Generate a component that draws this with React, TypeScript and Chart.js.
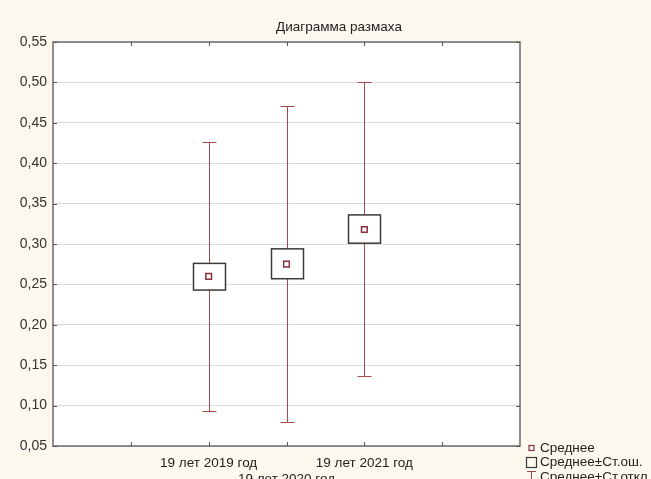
import React, { useEffect, useRef } from "react";
import { Chart, registerables } from "chart.js";

Chart.register(...registerables);

const titleText = "Диаграмма размаха";
const categories = ["19 лет 2019 год", "19 лет 2020 год", "19 лет 2021 год"];
const positions = [2, 3, 4];
const means = [0.26, 0.275, 0.318];
const seLow = [0.243, 0.257, 0.301];
const seHigh = [0.276, 0.294, 0.336];
const sdLow = [0.093, 0.08, 0.137];
const sdHigh = [0.426, 0.471, 0.5];
const legendLabels = ["Среднее", "Среднее±Ст.ош.", "Среднее±Ст.откл."];

const FONT = "'Liberation Sans', Arial, sans-serif";
const BG = "#FCF8EE";
const WHISKER = "#A04A4A";
const MEAN = "#8A2E3C";
const BOX = "#3a3a3a";

const boxPlugin = {
  id: "boxPlugin",
  beforeDraw(chart: any) {
    const { ctx, chartArea: a, width, height } = chart;
    ctx.save();
    ctx.fillStyle = BG;
    ctx.fillRect(0, 0, width, height);
    ctx.fillStyle = "#ffffff";
    ctx.fillRect(a.left, a.top, a.right - a.left, a.bottom - a.top);
    ctx.restore();
  },
  beforeDatasetsDraw(chart: any) {
    const { ctx, scales } = chart;
    const xs = scales.x;
    const ys = scales.y;
    ctx.save();
    positions.forEach((p, i) => {
      const x = Math.round(xs.getPixelForValue(p)) + 0.5;
      const yTop = Math.round(ys.getPixelForValue(sdHigh[i])) + 0.5;
      const yBot = Math.round(ys.getPixelForValue(sdLow[i])) + 0.5;
      ctx.strokeStyle = WHISKER;
      ctx.lineWidth = 1;
      ctx.beginPath();
      ctx.moveTo(x, yTop);
      ctx.lineTo(x, yBot);
      ctx.moveTo(x - 7, yTop);
      ctx.lineTo(x + 7, yTop);
      ctx.moveTo(x - 7, yBot);
      ctx.lineTo(x + 7, yBot);
      ctx.stroke();
      const bTop = ys.getPixelForValue(seHigh[i]);
      const bBot = ys.getPixelForValue(seLow[i]);
      const hw = 16;
      ctx.fillStyle = "#ffffff";
      ctx.fillRect(x - hw, bTop, hw * 2, bBot - bTop);
      ctx.strokeStyle = BOX;
      ctx.lineWidth = 1.5;
      ctx.strokeRect(x - hw, bTop, hw * 2, bBot - bTop);
    });
    ctx.restore();
  },
  afterDraw(chart: any) {
    const { ctx, chartArea: a, scales } = chart;
    ctx.save();
    // frame
    ctx.strokeStyle = "#6b6b6b";
    ctx.lineWidth = 1.5;
    ctx.strokeRect(a.left, a.top, a.right - a.left, a.bottom - a.top);
    // inner ticks
    ctx.lineWidth = 1;
    ctx.strokeStyle = "#555";
    ctx.beginPath();
    for (let v = 1; v <= 5; v++) {
      const x = Math.round(scales.x.getPixelForValue(v)) + 0.5;
      ctx.moveTo(x, a.top);
      ctx.lineTo(x, a.top + 4);
      ctx.moveTo(x, a.bottom);
      ctx.lineTo(x, a.bottom - 4);
    }
    scales.y.ticks.forEach((t: any) => {
      const y = Math.round(scales.y.getPixelForValue(t.value)) + 0.5;
      ctx.moveTo(a.left, y);
      ctx.lineTo(a.left + 4, y);
      ctx.moveTo(a.right, y);
      ctx.lineTo(a.right - 4, y);
    });
    ctx.stroke();
    // title
    ctx.fillStyle = "#222";
    ctx.font = `13.5px ${FONT}`;
    ctx.textAlign = "center";
    ctx.textBaseline = "middle";
    ctx.fillText(titleText, 339, 27);
    // legend
    ctx.textAlign = "left";
    const lx = 540;
    const rows = [448, 462.5, 477];
    // row 1: mean marker
    ctx.strokeStyle = MEAN;
    ctx.lineWidth = 1.2;
    ctx.fillStyle = "#fff";
    ctx.fillRect(529, rows[0] - 2.5, 5, 5);
    ctx.strokeRect(529, rows[0] - 2.5, 5, 5);
    // row 2: box
    ctx.strokeStyle = BOX;
    ctx.lineWidth = 1.2;
    ctx.strokeRect(526.5, rows[1] - 5, 10, 10);
    // row 3: whisker T
    ctx.strokeStyle = WHISKER;
    ctx.lineWidth = 1;
    ctx.beginPath();
    ctx.moveTo(527, rows[2] - 5.5);
    ctx.lineTo(536, rows[2] - 5.5);
    ctx.moveTo(531.5, rows[2] - 5.5);
    ctx.lineTo(531.5, rows[2] + 5);
    ctx.stroke();
    ctx.fillStyle = "#222";
    legendLabels.forEach((l, i) => ctx.fillText(l, lx, rows[i]));
    ctx.restore();
  },
};

export default function App() {
  const ref = useRef<HTMLCanvasElement>(null);
  useEffect(() => {
    document.body.style.margin = "0";
    const chart = new Chart(ref.current as HTMLCanvasElement, {
      type: "scatter",
      data: {
        datasets: [
          {
            label: legendLabels[0],
            data: positions.map((x, i) => ({ x, y: means[i] })),
            pointStyle: "rect",
            pointRadius: 4,
            pointBorderWidth: 1.5,
            pointBorderColor: MEAN,
            pointBackgroundColor: "#ffffff",
          },
        ],
      },
      options: {
        responsive: false,
        animation: false,
        layout: { padding: { top: 42, right: 131, left: 0, bottom: 0 } },
        plugins: {
          legend: { display: false },
          title: { display: false },
          tooltip: { enabled: false },
        },
        scales: {
          x: {
            type: "linear",
            min: 0,
            max: 6,
            afterFit: (s: any) => {
              s.height = 33;
            },
            grid: { display: false, drawTicks: false },
            border: { display: false },
            ticks: {
              stepSize: 1,
              autoSkip: false,
              maxRotation: 0,
              minRotation: 0,
              padding: 9,
              color: "#222",
              font: { family: FONT, size: 13.5 },
              callback: (v: any) => {
                const i = positions.indexOf(Number(v));
                if (i < 0) return "";
                return i === 1 ? ["", categories[i]] : categories[i];
              },
            },
          },
          y: {
            type: "linear",
            min: 0.05,
            max: 0.55,
            afterFit: (s: any) => {
              s.width = 53;
            },
            grid: { color: "#dadada", drawTicks: false, lineWidth: 1 },
            border: { display: false },
            ticks: {
              stepSize: 0.05,
              padding: 6,
              color: "#333",
              font: { family: FONT, size: 14 },
              callback: (v: any) => Number(v).toFixed(2).replace(".", ","),
            },
          },
        },
      },
      plugins: [boxPlugin],
    } as any);
    return () => chart.destroy();
  }, []);
  return (
    <div style={{ width: 651, height: 479 }}>
      <canvas ref={ref} width={651} height={479} />
    </div>
  );
}
